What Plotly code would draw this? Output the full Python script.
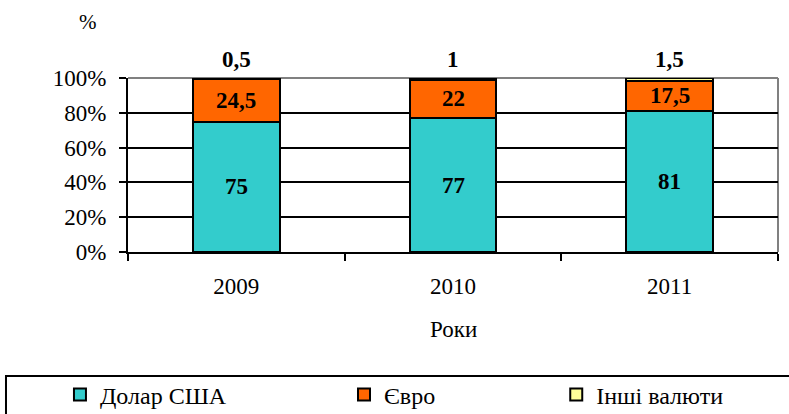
import plotly.graph_objects as go

# Currency structure by year, % of total
years = ["2009", "2010", "2011"]
usd = [75, 77, 81]
eur = [24.5, 22, 17.5]
other = [0.5, 1, 1.5]

series_names = ["Долар США", "Євро", "Інші валюти"]
colors = ["#33CCCC", "#FF6600", "#FFFF99"]

y_ticks = [0, 20, 40, 60, 80, 100]
y_tick_text = ["%d%%" % v for v in y_ticks]


def fmt(v):
    return ("%g" % v).replace(".", ",")


FONT = "Liberation Serif"
LABEL_FONT = dict(family=FONT, size=23, color="black")

fig = go.Figure()
legends = ["legend", "legend2", "legend3"]
for name, vals, col, lg in zip(series_names, [usd, eur, other], colors, legends):
    fig.add_trace(go.Bar(
        x=years, y=vals, name=name, legend=lg,
        marker=dict(color=col, line=dict(color="black", width=2)),
        width=0.4,
    ))

# Value labels: centred in the two large segments, above the bar for the small one
annotations = []
for i in range(len(years)):
    annotations.append(dict(x=i, y=usd[i] / 2, text="<b>%s</b>" % fmt(usd[i]),
                            showarrow=False, font=LABEL_FONT))
    annotations.append(dict(x=i, y=usd[i] + eur[i] / 2, text="<b>%s</b>" % fmt(eur[i]),
                            showarrow=False, font=LABEL_FONT))
    annotations.append(dict(x=i, y=usd[i] + eur[i] + other[i], text="<b>%s</b>" % fmt(other[i]),
                            showarrow=False, yshift=19, font=LABEL_FONT))

annotations.append(dict(x=-0.0615, y=1.322, xref="paper", yref="paper", text="%", showarrow=False,
                        xanchor="center", yanchor="middle",
                        font=dict(family=FONT, size=21, color="black")))
annotations.append(dict(x=0.5, y=-0.448, xref="paper", yref="paper", text="Роки", showarrow=False,
                        xanchor="center", yanchor="middle",
                        font=dict(family=FONT, size=23, color="black")))

legend_style = dict(orientation="h", yanchor="middle", xanchor="left",
                    xref="container", yref="container", y=0.046,
                    font=dict(family=FONT, size=24, color="black"),
                    bgcolor="rgba(0,0,0,0)", borderwidth=0)

fig.update_layout(
    width=789, height=414,
    font=dict(family=FONT, size=23, color="black"),
    margin=dict(l=128, r=11, t=78, b=162, autoexpand=False),
    paper_bgcolor="white", plot_bgcolor="white",
    barmode="stack",
    showlegend=True,
    legend=dict(legend_style, x=0.076),
    legend2=dict(legend_style, x=0.436),
    legend3=dict(legend_style, x=0.705),
    annotations=annotations,
    xaxis=dict(
        type="category", range=[-0.5, 2.5], showgrid=False,
        showline=True, linecolor="black", linewidth=2,
        ticks="outside", tickson="boundaries", ticklen=7, tickwidth=2, tickcolor="black",
        ticklabelstandoff=12,
        tickfont=dict(family=FONT, size=23, color="black"),
    ),
    yaxis=dict(
        range=[0, 100], tickmode="array", tickvals=y_ticks, ticktext=y_tick_text,
        showgrid=True, gridcolor="black", gridwidth=2,
        showline=True, linecolor="black", linewidth=2,
        ticks="outside", ticklen=7, tickwidth=2, tickcolor="black",
        ticklabelstandoff=8,
        tickfont=dict(family=FONT, size=23, color="black"), zeroline=False,
    ),
    shapes=[
        # top and right plot-area border in grey
        dict(type="line", xref="paper", yref="paper", x0=0, x1=1, y0=1, y1=1,
             line=dict(color="#808080", width=2), layer="between"),
        dict(type="line", xref="paper", yref="paper", x0=1, x1=1, y0=0, y1=1,
             line=dict(color="#808080", width=2), layer="between"),
        # legend frame
        dict(type="rect", xref="paper", yref="paper", x0=-0.1877, x1=1.03, y0=-0.713, y1=-1.05,
             line=dict(color="black", width=2), fillcolor="rgba(0,0,0,0)"),
    ],
)

fig.write_html("out.html")
